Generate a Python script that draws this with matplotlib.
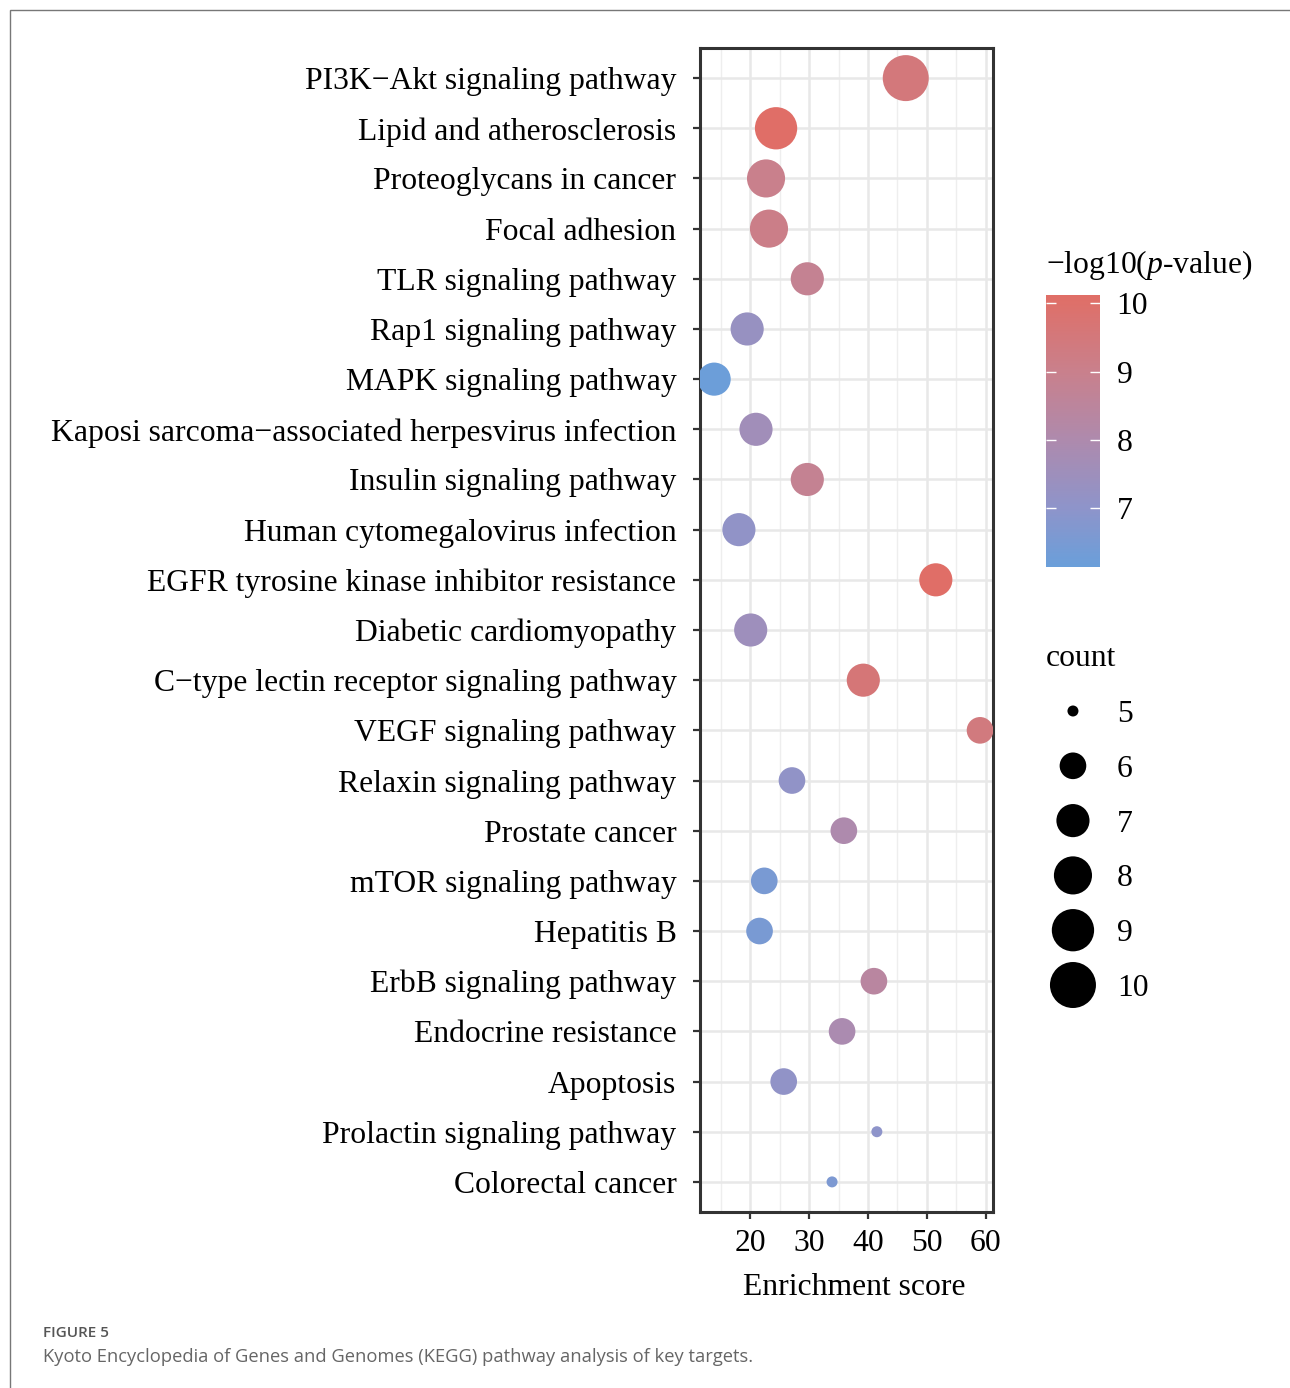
import numpy as np
import matplotlib.pyplot as plt
import matplotlib.colors as mcolors
from matplotlib.patches import Rectangle

PATHWAYS = [
    "PI3K\u2212Akt signaling pathway", "Lipid and atherosclerosis", "Proteoglycans in cancer",
    "Focal adhesion", "TLR signaling pathway", "Rap1 signaling pathway", "MAPK signaling pathway",
    "Kaposi sarcoma\u2212associated herpesvirus infection", "Insulin signaling pathway",
    "Human cytomegalovirus infection", "EGFR tyrosine kinase inhibitor resistance",
    "Diabetic cardiomyopathy", "C\u2212type lectin receptor signaling pathway",
    "VEGF signaling pathway", "Relaxin signaling pathway", "Prostate cancer",
    "mTOR signaling pathway", "Hepatitis B", "ErbB signaling pathway", "Endocrine resistance",
    "Apoptosis", "Prolactin signaling pathway", "Colorectal cancer"]
ENRICH = [46.4, 24.4, 22.7, 23.2, 29.7, 19.5, 13.9, 21.0, 29.7, 18.1, 51.5, 20.1, 39.2,
          59.0, 27.1, 35.9, 22.4, 21.6, 41.0, 35.6, 25.7, 41.5, 33.9]
LOGP = [9.5, 10.1, 9.0, 9.1, 8.8, 7.3, 6.2, 7.6, 8.8, 7.1, 10.1, 7.5, 9.6,
        9.4, 7.1, 8.0, 6.5, 6.5, 8.4, 7.9, 7.1, 7.0, 6.6]
COUNT = [10, 9, 8, 8, 7, 7, 7, 7, 7, 7, 7, 7, 7, 6, 6, 6, 6, 6, 6, 6, 6, 5, 5]

X_TICKS = [20, 30, 40, 50, 60]
CBAR_TICKS = [7, 8, 9, 10]
SIZE_BREAKS = [5, 6, 7, 8, 9, 10]
LOGP_RANGE = (6.14, 10.12)

plt.rcParams["font.family"] = ["Liberation Serif", "DejaVu Serif"]
plt.rcParams["mathtext.fontset"] = "custom"
plt.rcParams["mathtext.rm"] = "Liberation Serif"
plt.rcParams["mathtext.it"] = "Liberation Serif:italic"

FS = 22.8
DPI = 100
PT = 72.0 / DPI  # points per pixel


# ggplot-like area scale: diameter grows with sqrt of rescaled count
def marker_s(c):
    c = np.asarray(c, dtype=float)
    d_px = 11 + 35 * np.sqrt((c - 5) / 5.0)
    return (d_px * PT) ** 2


cmap = mcolors.LinearSegmentedColormap.from_list("pv", [
    (0.0, "#6A9FDA"),
    ((7 - 6.14) / 3.98, "#8E94CA"),
    ((8 - 6.14) / 3.98, "#AE8AAD"),
    ((9 - 6.14) / 3.98, "#C9808C"),
    (1.0, "#E06E66")])
norm = mcolors.Normalize(*LOGP_RANGE)

fig = plt.figure(figsize=(12.9, 13.88), dpi=DPI)

# page frame
fig.patches.append(Rectangle((10 / 1290, -0.1), 1.2, 1 - 10 / 1388 + 0.1, transform=fig.transFigure,
                             fill=False, edgecolor="#777777", linewidth=1.0))

ax = fig.add_axes([700 / 1290, 1 - 1212 / 1388, 293 / 1290, 1164 / 1388])
n = len(PATHWAYS)
ypos = np.arange(n)
sc = ax.scatter(ENRICH, ypos, s=marker_s(COUNT), c=LOGP, cmap=cmap, norm=norm,
                linewidths=0, zorder=3)
ax.set_xlim(11.5, 61.2)
ax.set_ylim(n - 0.4, -0.6)
ax.set_yticks(ypos)
ax.set_yticklabels(PATHWAYS, fontsize=FS)
ax.set_xticks(X_TICKS)
ax.set_xticklabels([str(t) for t in X_TICKS], fontsize=FS)
ax.set_xticks([15, 25, 35, 45, 55], minor=True)
ax.grid(which="major", color="#E8E8E8", linewidth=1.8, zorder=0)
ax.grid(which="minor", axis="x", color="#EEEEEE", linewidth=1.0, zorder=0)
ax.set_axisbelow(True)
ax.tick_params(axis="both", which="major", length=5, width=1.6, color="#333333")
ax.tick_params(axis="y", pad=12)
ax.tick_params(axis="x", pad=7)
ax.tick_params(which="minor", length=0)
for sp in ax.spines.values():
    sp.set_linewidth(2.2)
    sp.set_color("#333333")
ax.set_xlabel("Enrichment score", fontsize=FS, labelpad=10)
ax.xaxis.set_label_coords(0.527, -0.052)

# colour bar
cax = fig.add_axes([1046 / 1290, 1 - 567 / 1388, 54 / 1290, 272 / 1388])
cb = fig.colorbar(sc, cax=cax)
cb.outline.set_visible(False)
cb.set_ticks(CBAR_TICKS)
cb.ax.tick_params(direction="in", length=7, width=1.0, color="white", labelsize=FS,
                  left=True, right=True, pad=12)
fig.text(1046 / 1290, 1 - 265 / 1388, "\u2212log10($p$-value)", fontsize=FS, va="center", ha="left")

# size legend
lax = fig.add_axes([1040 / 1290, 1 - 1010 / 1388, 160 / 1290, 380 / 1388])
lax.set_xlim(0, 1)
lax.set_ylim(10.456, 3.522)
lax.axis("off")
lax.scatter([0.206] * len(SIZE_BREAKS), SIZE_BREAKS, s=marker_s(SIZE_BREAKS), c="black",
            linewidths=0, clip_on=False)
for b in SIZE_BREAKS:
    lax.text(0.481, b, str(b), fontsize=FS, va="center_baseline", ha="left")
lax.text(0.0375, 3.98, "count", fontsize=FS, va="center_baseline", ha="left")

# caption
fig.text(43 / 1290, 1 - 1333 / 1388, "FIGURE 5", fontsize=11, color="#555555",
         family="Open Sans", weight="semibold", va="center", ha="left")
fig.text(43 / 1290, 1 - 1357 / 1388,
         "Kyoto Encyclopedia of Genes and Genomes (KEGG) pathway analysis of key targets.",
         fontsize=13.2, color="#666666", family="Open Sans", va="center", ha="left")

fig.savefig("out.png", dpi=DPI)
